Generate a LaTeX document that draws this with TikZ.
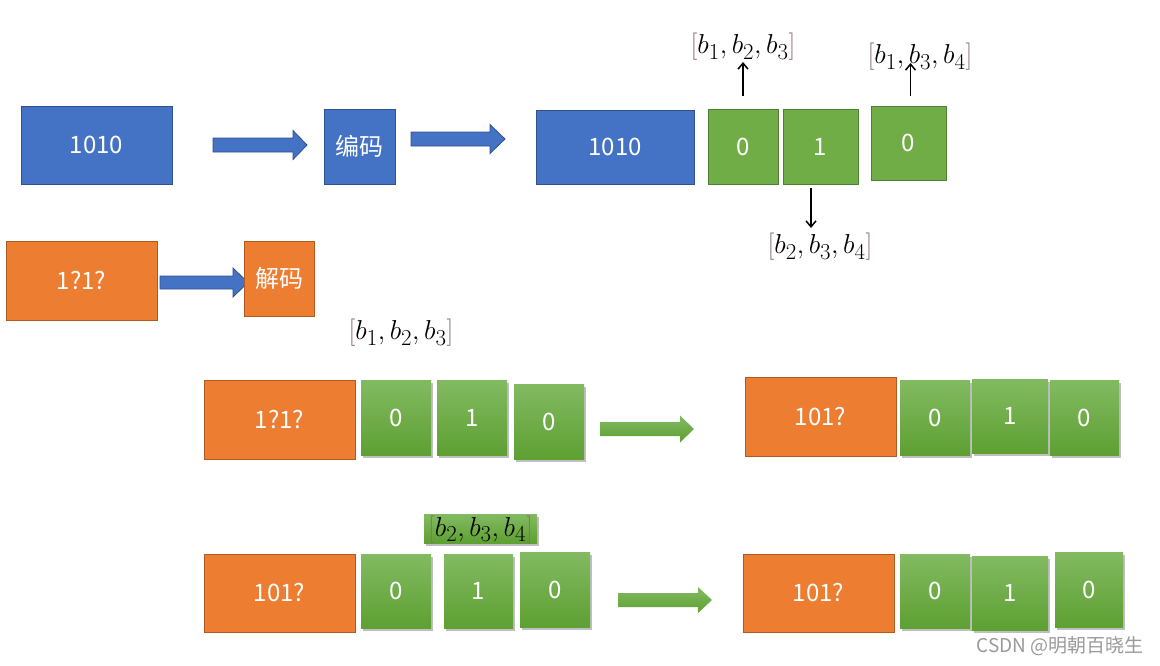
\documentclass[tikz,border=0pt]{standalone}
\usepackage{graphicx}
\usepackage{fontspec}
\setmainfont{Noto Sans CJK SC}
\usetikzlibrary{shadows,fit,arrows.meta}
\definecolor{bfill}{HTML}{4472C4}
\definecolor{bline}{HTML}{2F528F}
\definecolor{ofill}{HTML}{ED7D31}
\definecolor{oline}{HTML}{AE5A21}
\definecolor{gfill}{HTML}{70AD47}
\definecolor{gline}{HTML}{507E32}
\definecolor{gtop}{HTML}{82BA62}
\definecolor{gbot}{HTML}{5EA032}
\definecolor{brk}{HTML}{8A7070}
\definecolor{wmc}{HTML}{9A9A9A}
\newcommand\gbr[1]{{\color{brk}#1}}
\newcommand\mlab[1]{\scalebox{1.1}{$#1$}}
% style, x start, x head start, x tip, y centre, half body, half head
\newcommand\blkarrow[7]{\path[#1] ({#2},{#5-#6}) -- ({#3},{#5-#6}) -- ({#3},{#5-#7}) -- ({#4},{#5}) -- ({#3},{#5+#7}) -- ({#3},{#5+#6}) -- ({#2},{#5+#6}) -- cycle;}
% style, name, x1, y1, x2, y2, text
\newcommand\bxx[7]{\node[#1, fit={(#3,#4)(#5,#6)}] (#2) {};
  \node[boxtext] (#2t) at ([yshift=-8.8pt]#2.center) {#7};}
\tikzset{
  boxbase/.style={inner sep=0pt, outer sep=0pt},
  boxtext/.style={inner sep=0pt, anchor=base, text=white, font=\fontsize{24}{28}\selectfont},
  bbox/.style={boxbase, fill=bfill, draw=bline, line width=0.8pt},
  obox/.style={boxbase, fill=ofill, draw=oline, line width=0.8pt},
  gflat/.style={boxbase, fill=gfill, draw=gline, line width=0.8pt},
  gbox/.style={boxbase, top color=gtop, bottom color=gbot,
     drop shadow={shadow xshift=1.5pt, shadow yshift=-2.5pt, opacity=0.25, fill=black}},
  lab/.style={inner sep=0pt, font=\fontsize{24.88}{30}\selectfont},
  blk/.style={line width=1.5pt, -{Straight Barb[length=6pt,width=10pt,line width=1.5pt]}},
  barrowst/.style={fill=bfill, draw=bline, line width=0.8pt},
  garrowst/.style={top color=gtop, bottom color=gbot},
}
\begin{document}
\begin{tikzpicture}[x=1pt,y=-1pt]
\useasboundingbox[fill=white] (0,0) rectangle (1160,665);

% ---- top row: encoding
\bxx{bbox}{src}{21}{106}{172}{184}{1010}
\blkarrow{barrowst}{213}{293}{307}{145}{7}{14.5}
\bxx{bbox}{enc}{324}{109}{395}{184}{编码}
\blkarrow{barrowst}{411}{490}{505}{139}{7}{14.5}
\bxx{bbox}{data}{536}{110}{694}{184}{1010}
\bxx{gflat}{p1}{708}{109}{778}{184}{0}
\bxx{gflat}{p2}{783}{109}{858}{184}{1}
\bxx{gflat}{p3}{871}{106}{946}{180}{0}

\node[lab] (l1) at (743,47) {\mlab{\gbr{[}b_1,b_2,b_3\gbr{]}}};
\node[lab] (l3) at (920,57) {\mlab{\gbr{[}b_1,b_3,b_4\gbr{]}}};
\node[lab] (l2) at (820,247) {\mlab{\gbr{[}b_2,b_3,b_4\gbr{]}}};
\draw[blk] ([yshift=13pt]p1.north) -- ([yshift=47pt]p1.north);
\draw[blk] ([xshift=2pt,yshift=10pt]p3.north) -- ([xshift=2pt,yshift=43pt]p3.north);
\draw[blk] ([xshift=-9.5pt,yshift=-4pt]p2.south) -- ([xshift=-9.5pt,yshift=-44pt]p2.south);

% ---- second row: decoding
\bxx{obox}{rcv}{6}{241}{157}{320}{1?1?}
\blkarrow{barrowst}{160}{233}{248}{282.5}{6.5}{14.5}
\bxx{obox}{dec}{244}{241}{314}{316}{解码}

% ---- third row
\node[lab] (l4) at (401,333) {\mlab{\gbr{[}b_1,b_2,b_3\gbr{]}}};
\bxx{obox}{r3a}{204}{380}{355}{459}{1?1?}
\bxx{gbox}{r3b}{361}{380}{431}{455}{0}
\bxx{gbox}{r3c}{437}{380}{507}{455}{1}
\bxx{gbox}{r3d}{514}{384}{584}{459}{0}
\blkarrow{garrowst}{600}{680}{694}{429}{7}{13.5}
\bxx{obox}{r3e}{745}{377}{896}{456}{101?}
\bxx{gbox}{r3f}{900}{380}{970}{455}{0}
\bxx{gbox}{r3g}{972}{379}{1048}{453}{1}
\bxx{gbox}{r3h}{1050}{380}{1119}{455}{0}

% ---- fourth row
\node[gbox, fit={(424,514)(537,543)}] (l5box) {};
\node[lab] (l5) at ([yshift=-1pt]l5box.center) {\mlab{\gbr{[}b_2,b_3,b_4\gbr{]}}};
\bxx{obox}{r4a}{204}{554}{355}{632}{101?}
\bxx{gbox}{r4b}{361}{554}{431}{628}{0}
\bxx{gbox}{r4c}{444}{554}{513}{628}{1}
\bxx{gbox}{r4d}{520}{552}{590}{627}{0}
\blkarrow{garrowst}{618}{698}{712}{600}{7}{13}
\bxx{obox}{r4e}{743}{554}{894}{632}{101?}
\bxx{gbox}{r4f}{900}{554}{970}{628}{0}
\bxx{gbox}{r4g}{972}{556}{1048}{630}{1}
\bxx{gbox}{r4h}{1055}{552}{1123}{627}{0}

\node[text=wmc, font=\fontsize{19}{22}\selectfont, anchor=east, inner sep=0pt] (wm) at (1144,646) {CSDN @明朝百晓生};
\end{tikzpicture}
\end{document}
